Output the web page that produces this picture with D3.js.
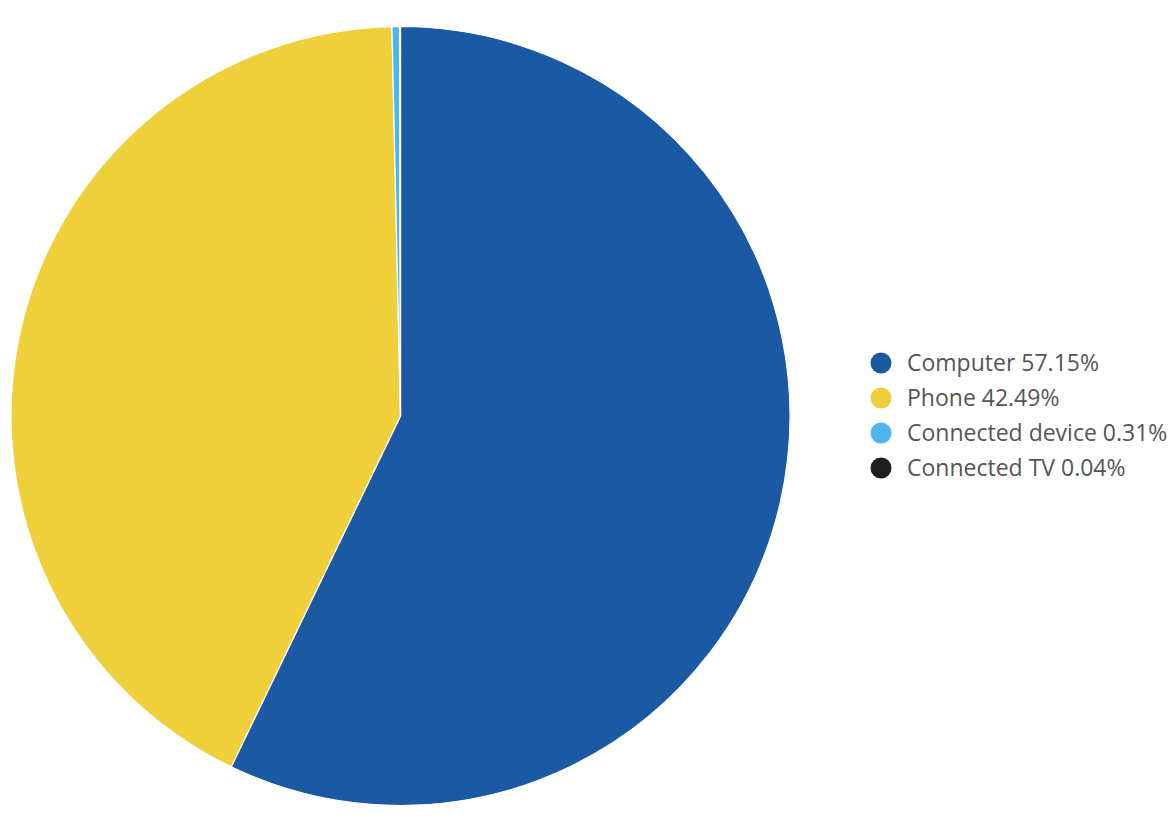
<!DOCTYPE html>
<html>
<head>
<meta charset="utf-8">
<script src="https://cdn.jsdelivr.net/npm/d3@7/dist/d3.min.js"></script>
<style>
  html, body { margin: 0; padding: 0; background: #fff; }
  svg { display: block; }
  .legend text { font-family: "Open Sans", sans-serif; font-size: 23px; fill: #555; }
</style>
</head>
<body>
<svg id="chart" width="1174" height="834"></svg>
<script>
// Share of traffic by device type
const categories = ["Computer", "Phone", "Connected device", "Connected TV"];
const shares = [57.15, 42.49, 0.31, 0.04];
const colors = ["#1b5aa3", "#efcf3a", "#4db6ee", "#1e1e1e"];

const svg = d3.select("#chart");
const cx = 400.5, cy = 416, radius = 389.5;

const data = categories.map((c, i) => ({ name: c, value: shares[i], color: colors[i] }));

const pie = d3.pie().value(d => d.value).sort(null);
const arc = d3.arc().innerRadius(0).outerRadius(radius);

svg.append("g")
  .attr("transform", `translate(${cx},${cy})`)
  .selectAll("path")
  .data(pie(data))
  .join("path")
  .attr("d", arc)
  .attr("fill", d => d.data.color)
  .attr("stroke", "#fff")
  .attr("stroke-width", 1.2)
  .attr("stroke-linejoin", "round");

// Legend
const legend = svg.append("g").attr("class", "legend")
  .attr("transform", "translate(881,363)");
const rowH = 35;
const rows = legend.selectAll("g")
  .data(data)
  .join("g")
  .attr("transform", (d, i) => `translate(0,${i * rowH})`);
rows.append("circle").attr("r", 10.5).attr("fill", d => d.color);
rows.append("text")
  .attr("x", 26)
  .attr("dy", "0.35em")
  .text(d => `${d.name} ${d.value.toFixed(2)}%`);
</script>
</body>
</html>
